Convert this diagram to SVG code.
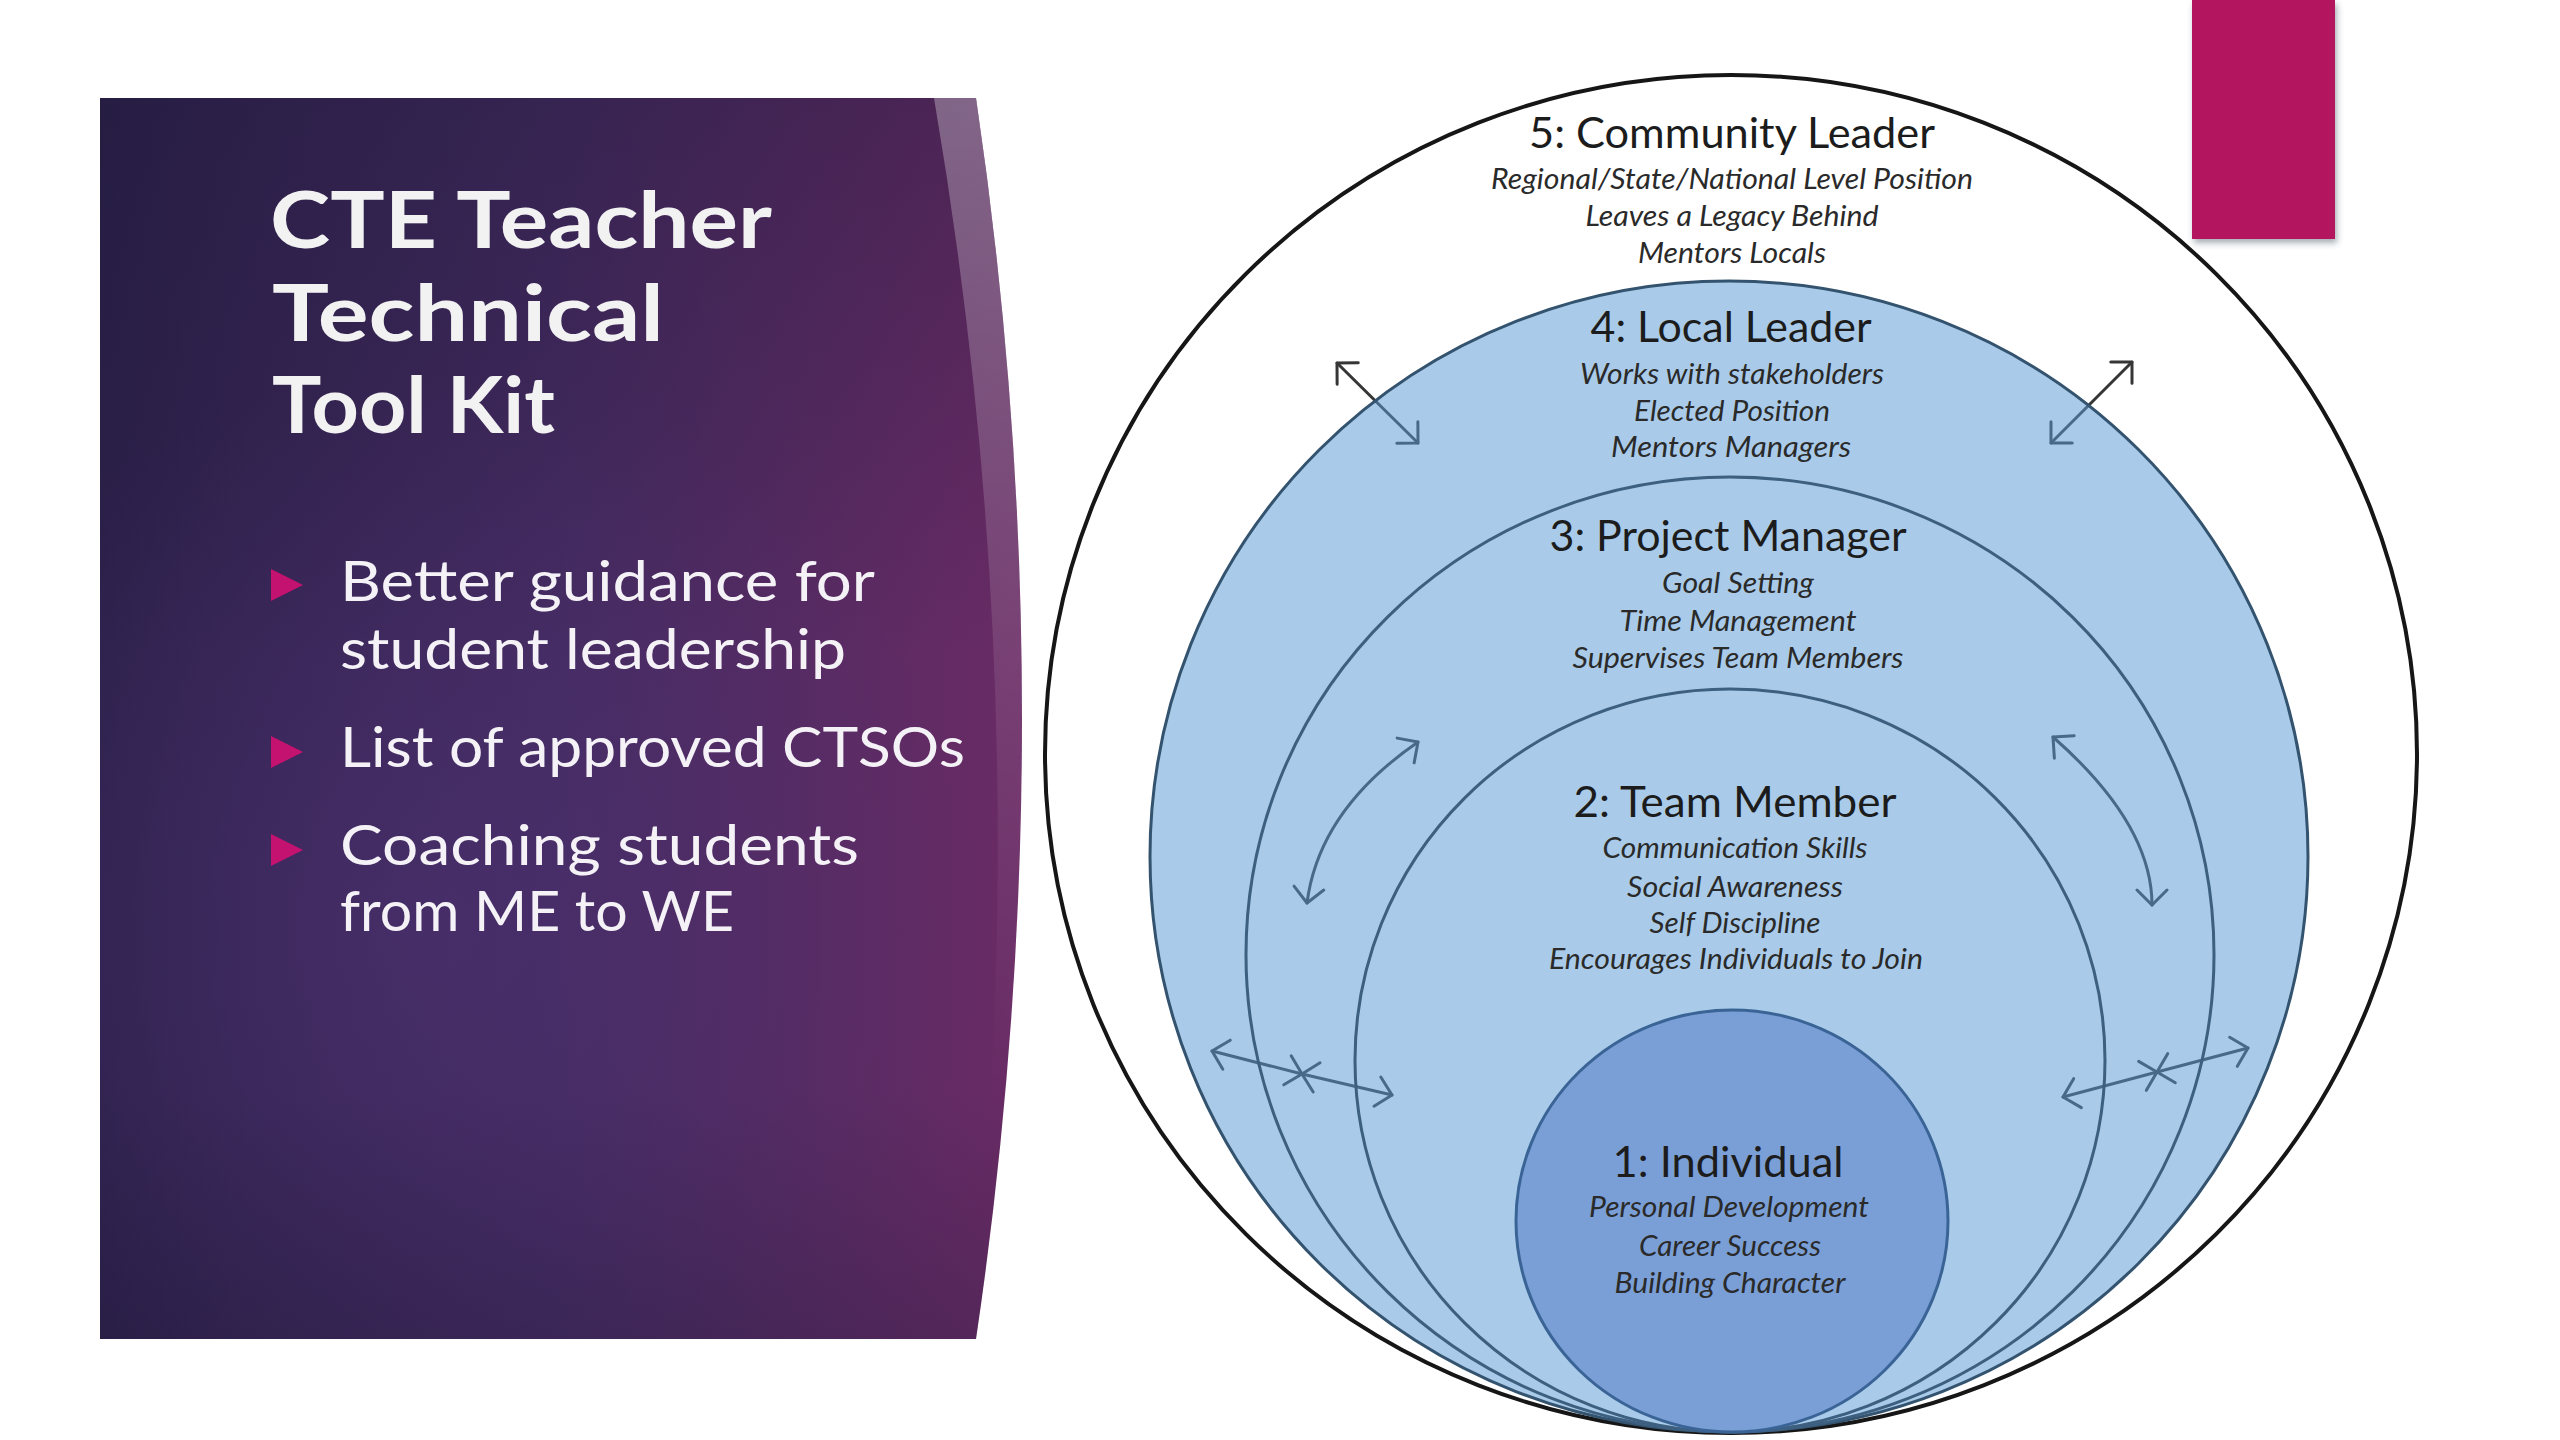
<svg xmlns="http://www.w3.org/2000/svg" width="2560" height="1440" viewBox="0 0 2560 1440">
<defs>
<linearGradient id="pg" x1="0" y1="0" x2="1" y2="0">
<stop offset="0" stop-color="#2b2049"/>
<stop offset="0.5" stop-color="#432a5f"/>
<stop offset="1" stop-color="#6a2b65"/>
</linearGradient>
<radialGradient id="pr" gradientUnits="userSpaceOnUse" cx="430" cy="930" r="560">
<stop offset="0" stop-color="#4f3375" stop-opacity="0.55"/>
<stop offset="1" stop-color="#4f3375" stop-opacity="0"/>
</radialGradient>
<linearGradient id="pv" x1="0" y1="0" x2="0" y2="1">
<stop offset="0" stop-color="#1e1838" stop-opacity="0.35"/>
<stop offset="0.45" stop-color="#1e1838" stop-opacity="0"/>
<stop offset="0.8" stop-color="#1e1838" stop-opacity="0"/>
<stop offset="1" stop-color="#1e1838" stop-opacity="0.25"/>
</linearGradient>
<linearGradient id="band" gradientUnits="userSpaceOnUse" x1="0" y1="98" x2="0" y2="1339">
<stop offset="0" stop-color="#ffffff" stop-opacity="0.3"/>
<stop offset="0.45" stop-color="#ffffff" stop-opacity="0.1"/>
<stop offset="0.8" stop-color="#ffffff" stop-opacity="0"/>
</linearGradient>
<filter id="sh" x="-20%" y="-20%" width="140%" height="140%">
<feDropShadow dx="2" dy="4" stdDeviation="3" flood-color="#3a4a5a" flood-opacity="0.45"/>
</filter>
<marker id="ah" viewBox="-18 -18 20 36" refX="0" refY="0" markerWidth="20" markerHeight="36" markerUnits="userSpaceOnUse" orient="auto-start-reverse">
<path d="M-15,-15 L0,0 L-15,15" fill="none" stroke="#363636" stroke-width="3" stroke-linecap="round" stroke-linejoin="round"/>
</marker>
</defs>
<style>
.ttl{font-family:Lato,"Noto Sans","DejaVu Sans",sans-serif;font-weight:700;font-size:78px;fill:#f2f2f2}
.bul{font-family:Lato,"Noto Sans","DejaVu Sans",sans-serif;font-size:56px;fill:#f4f2f6}
.tri{fill:#c3126f}
.hd{font-family:Lato,"Open Sans","Liberation Sans",sans-serif;font-size:42px;fill:#1c1c1c;text-anchor:middle}
.it{font-family:Lato,"Open Sans","Liberation Sans",sans-serif;font-style:italic;font-size:29px;fill:#2a2a2a;text-anchor:middle}
.con{fill:none;stroke:#363636;stroke-width:3;stroke-linecap:round;marker-start:url(#ah);marker-end:url(#ah)}
.inner{fill:none;stroke:#3d5f80;stroke-width:3}
</style>
<rect width="2560" height="1440" fill="#ffffff"/>

<g id="panel">
<path d="M100,98 L976,98 Q1068,718 976,1339 L100,1339 Z" fill="url(#pg)"/>
<path d="M100,98 L976,98 Q1068,718 976,1339 L100,1339 Z" fill="url(#pr)"/>
<path d="M100,98 L976,98 Q1068,718 976,1339 L100,1339 Z" fill="url(#pv)"/>
<path d="M934,98 L976,98 Q1068,718 976,1339 L970,1339 Q1040,718 934,98 Z" fill="url(#band)"/>
<text class="ttl" x="270" y="248" textLength="502" lengthAdjust="spacingAndGlyphs">CTE Teacher</text>
<text class="ttl" x="272" y="341" textLength="392" lengthAdjust="spacingAndGlyphs">Technical</text>
<text class="ttl" x="272" y="433" textLength="283" lengthAdjust="spacingAndGlyphs">Tool Kit</text>
<polygon class="tri" points="271,569 303,585 271,601"/>
<polygon class="tri" points="271,736 303,752 271,768"/>
<polygon class="tri" points="271,834 303,850 271,866"/>
<text class="bul" x="340" y="601" textLength="535" lengthAdjust="spacingAndGlyphs">Better guidance for</text>
<text class="bul" x="340" y="669" textLength="506" lengthAdjust="spacingAndGlyphs">student leadership</text>
<text class="bul" x="340" y="767" textLength="625" lengthAdjust="spacingAndGlyphs">List of approved CTSOs</text>
<text class="bul" x="340" y="865" textLength="519" lengthAdjust="spacingAndGlyphs">Coaching students</text>
<text class="bul" x="340" y="931" textLength="394" lengthAdjust="spacingAndGlyphs">from ME to WE</text>
</g>

<rect id="accent" x="2192" y="0" width="143" height="239" fill="#b3135f" filter="url(#sh)"/>

<g id="node5">
<ellipse cx="1731" cy="754" rx="686" ry="679" fill="#ffffff" stroke="#161616" stroke-width="4"/>
<text class="hd" x="1732" y="148" textLength="406" lengthAdjust="spacingAndGlyphs">5: Community Leader</text>
<text class="it" x="1732" y="189" textLength="482" lengthAdjust="spacingAndGlyphs">Regional/State/National Level Position</text>
<text class="it" x="1732" y="226" textLength="293" lengthAdjust="spacingAndGlyphs">Leaves a Legacy Behind</text>
<text class="it" x="1732" y="263" textLength="188" lengthAdjust="spacingAndGlyphs">Mentors Locals</text>
</g>

<g id="connectors">
<path class="con" d="M1337,363 L1418,443"/>
<path class="con" d="M2132,362 L2051,443"/>
<path class="con" d="M1418,742 Q1319,810 1307,903"/>
<path class="con" d="M2053,737 Q2152,824 2152,905"/>
<path class="con" d="M1212,1051 L1302,1074"/>
<path class="con" d="M1302,1074 L1392,1095"/>
<path class="con" d="M2063,1097 L2157,1072"/>
<path class="con" d="M2157,1072 L2248,1048"/>
</g>

<g id="node4">
<ellipse cx="1729" cy="856.5" rx="579" ry="575.5" fill="#5b9bd5" fill-opacity="0.52" stroke="#34536f" stroke-width="3"/>
<text class="hd" x="1731" y="342" textLength="281" lengthAdjust="spacingAndGlyphs">4: Local Leader</text>
<text class="it" x="1732" y="384" textLength="304" lengthAdjust="spacingAndGlyphs">Works with stakeholders</text>
<text class="it" x="1732" y="421" textLength="196" lengthAdjust="spacingAndGlyphs">Elected Position</text>
<text class="it" x="1731" y="457" textLength="240" lengthAdjust="spacingAndGlyphs">Mentors Managers</text>
</g>

<g id="node3">
<ellipse class="inner" cx="1730" cy="954.5" rx="484" ry="477.5"/>
<text class="hd" x="1728" y="551" textLength="357" lengthAdjust="spacingAndGlyphs">3: Project Manager</text>
<text class="it" x="1738" y="593" textLength="152" lengthAdjust="spacingAndGlyphs">Goal Setting</text>
<text class="it" x="1738" y="631" textLength="237" lengthAdjust="spacingAndGlyphs">Time Management</text>
<text class="it" x="1738" y="668" textLength="331" lengthAdjust="spacingAndGlyphs">Supervises Team Members</text>
</g>

<g id="node2">
<ellipse class="inner" cx="1730" cy="1060.5" rx="375" ry="371.5"/>
<text class="hd" x="1735" y="817" textLength="323" lengthAdjust="spacingAndGlyphs">2: Team Member</text>
<text class="it" x="1735" y="858" textLength="265" lengthAdjust="spacingAndGlyphs">Communication Skills</text>
<text class="it" x="1735" y="897" textLength="216" lengthAdjust="spacingAndGlyphs">Social Awareness</text>
<text class="it" x="1735" y="933" textLength="171" lengthAdjust="spacingAndGlyphs">Self Discipline</text>
<text class="it" x="1736" y="969" textLength="374" lengthAdjust="spacingAndGlyphs">Encourages Individuals to Join</text>
</g>

<g id="node1">
<ellipse cx="1732" cy="1221" rx="216" ry="211" fill="#7a9fd6" stroke="#3b6496" stroke-width="3"/>
<text class="hd" x="1728" y="1177" textLength="231" lengthAdjust="spacingAndGlyphs">1: Individual</text>
<text class="it" x="1729" y="1217" textLength="280" lengthAdjust="spacingAndGlyphs">Personal Development</text>
<text class="it" x="1730" y="1256" textLength="182" lengthAdjust="spacingAndGlyphs">Career Success</text>
<text class="it" x="1730" y="1293" textLength="231" lengthAdjust="spacingAndGlyphs">Building Character</text>
</g>
</svg>
